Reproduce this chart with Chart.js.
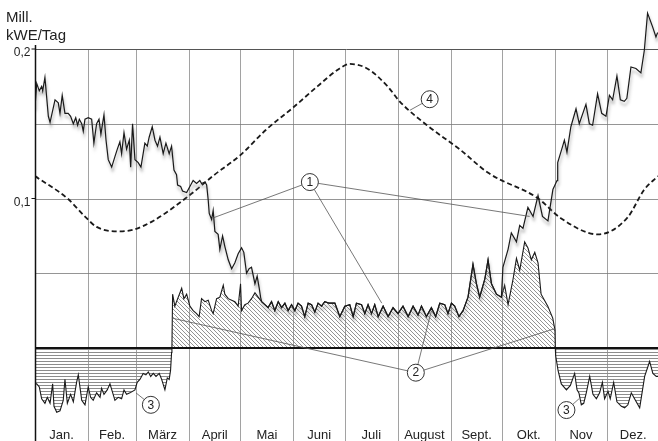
<!doctype html>
<html lang="de">
  <head>
    <title>Energiebilanz pro Tag</title>
    <meta charset="UTF-8" />
    <script src="https://cdn.jsdelivr.net/npm/chart.js"></script>
    <style>
      html, body { margin: 0; padding: 0; background: #fff; }
      .chart-container { position: relative; width: 658px; height: 441px; }
    </style>
  </head>
  <body>
    <div class="chart-container">
      <canvas id="energyChart"></canvas>
    </div>

    <script>
      // x = Tag im Jahr (0..365), y = Mill. kWE/Tag
      const monthNames = ['Jan.', 'Feb.', 'März', 'April', 'Mai', 'Juni', 'Juli', 'August', 'Sept.', 'Okt.', 'Nov', 'Dez.']
      const monthStarts = [0, 31, 59, 90, 120, 151, 181, 212, 243, 273, 304, 334, 365]
      const gridValues = [0.2, 0.15, 0.1, 0.05]
      const tickLabels = { 0.2: '0,2', 0.1: '0,1' }

      // Kurve 1 (Januar bis Mai, danach deckungsgleich mit Kurve 2)
      const c1SpringDays = [0, 1, 2.5, 3.9, 4.5, 5.8, 7.8, 8.8, 11.7, 13.6, 14.6, 15.9, 17.5, 19.4, 20.8, 22.4, 23.8, 24.9, 25.9, 27.3, 28.2, 29.2, 31.1, 33.1, 34.4, 36, 37.4, 38.5, 40.3, 41.5, 42.8, 44.8, 46.7, 48.1, 49.6, 50.6, 52, 53.5, 55.1, 55.9, 57, 58.4, 60.3, 61.9, 64.2, 65.6, 66.7, 68.5, 70.1, 71.6, 73, 74.9, 76.5, 78.4, 79.8, 81.2, 82.7, 83.3, 85.1, 86.2, 88.6, 90.5, 92.4, 94.4, 96.3, 97.3, 99.3, 100.3, 101.2, 101.8, 103.2, 104.1, 105.1, 107, 108, 109.6, 110.9, 112.9, 114.9, 116.8, 118.7, 120.7, 122, 123.6, 125.1, 126.5, 128.5, 129.8, 131, 131.8]
      const c1SpringVals = [0.161, 0.177, 0.172, 0.175, 0.172, 0.181, 0.155, 0.151, 0.166, 0.164, 0.157, 0.169, 0.157, 0.157, 0.155, 0.15, 0.154, 0.149, 0.153, 0.15, 0.145, 0.153, 0.154, 0.153, 0.137, 0.15, 0.153, 0.143, 0.156, 0.139, 0.126, 0.121, 0.128, 0.133, 0.138, 0.13, 0.144, 0.133, 0.139, 0.121, 0.15, 0.126, 0.124, 0.121, 0.137, 0.135, 0.141, 0.148, 0.139, 0.135, 0.141, 0.13, 0.137, 0.13, 0.135, 0.119, 0.116, 0.109, 0.108, 0.105, 0.104, 0.108, 0.112, 0.11, 0.112, 0.11, 0.111, 0.109, 0.099, 0.09, 0.086, 0.092, 0.078, 0.076, 0.066, 0.075, 0.068, 0.059, 0.053, 0.057, 0.063, 0.067, 0.064, 0.05, 0.053, 0.054, 0.043, 0.048, 0.04, 0.034]
      // Kurve 1 (Oktober bis Dezember)
      const c1AutumnDays = [273.4, 276.4, 278.3, 281.3, 283.2, 285.1, 288, 291, 293.9, 296.5, 299.7, 302.6, 305, 305.4, 308.3, 309.3, 310.8, 313.1, 316.1, 318, 321.9, 323.9, 325.8, 328.7, 331.1, 333.6, 335.6, 337.5, 340, 342, 344.3, 345.8, 348.2, 351.1, 354, 356, 357.9, 360.8, 362.8, 363.8]
      const c1AutumnVals = [0.054, 0.066, 0.077, 0.071, 0.082, 0.08, 0.094, 0.088, 0.102, 0.088, 0.085, 0.106, 0.112, 0.124, 0.135, 0.139, 0.131, 0.148, 0.16, 0.15, 0.163, 0.15, 0.149, 0.17, 0.157, 0.155, 0.169, 0.166, 0.182, 0.166, 0.165, 0.167, 0.188, 0.187, 0.184, 0.199, 0.224, 0.215, 0.208, 0.211]

      // Kurve 2 (Überschuss, schraffiert)
      const c2Days = [80, 80.4, 81.7, 83.7, 85.7, 87, 88.6, 90.5, 92.4, 94.4, 95.9, 97.3, 99.3, 101.2, 103.2, 104.1, 106.1, 108, 110, 110.9, 112.9, 114.9, 116.8, 118.7, 120.1, 120.7, 122.6, 124.5, 126.5, 128.5, 130.4, 132.4, 134.3, 136.2, 138.2, 140.1, 142.1, 144.1, 146, 147.9, 149.9, 151.8, 153.7, 155.7, 157.6, 159.6, 161.6, 163.5, 165.4, 167.4, 169.3, 171.8, 175.2, 178.1, 181, 183.9, 185.9, 187.8, 190.8, 192.7, 194.6, 196.6, 198.5, 200.5, 203.4, 206.3, 209.2, 212.1, 215, 218, 220.9, 223.8, 225.8, 228.7, 231.6, 234.1, 236.5, 239.4, 241.3, 243.3, 245.2, 247.7, 250.1, 253, 255.9, 257.9, 259.8, 262.8, 264.7, 266.7, 269.6, 272.5, 274.4, 276.4, 279.3, 281.3, 283.2, 286.1, 288, 290, 292, 293.9, 295.7, 299.6, 302.5, 303.8, 304]
      const c2Vals = [0, 0.036, 0.028, 0.034, 0.04, 0.033, 0.036, 0.028, 0.025, 0.023, 0.021, 0.033, 0.031, 0.032, 0.025, 0.023, 0.033, 0.034, 0.042, 0.036, 0.033, 0.032, 0.031, 0.028, 0.043, 0.025, 0.029, 0.03, 0.033, 0.037, 0.034, 0.031, 0.029, 0.027, 0.031, 0.025, 0.031, 0.027, 0.03, 0.025, 0.029, 0.025, 0.03, 0.028, 0.021, 0.03, 0.029, 0.024, 0.03, 0.028, 0.031, 0.03, 0.03, 0.021, 0.028, 0.029, 0.021, 0.03, 0.029, 0.023, 0.029, 0.023, 0.029, 0.021, 0.028, 0.021, 0.027, 0.023, 0.028, 0.021, 0.028, 0.022, 0.028, 0.021, 0.027, 0.021, 0.03, 0.029, 0.023, 0.03, 0.028, 0.021, 0.025, 0.034, 0.056, 0.043, 0.034, 0.046, 0.059, 0.043, 0.036, 0.034, 0.042, 0.029, 0.046, 0.06, 0.052, 0.071, 0.067, 0.059, 0.064, 0.057, 0.036, 0.028, 0.02, 0.012, 0]

      // Kurve 3 (Defizit, Winter)
      const c3aDays = [0, 1, 2.5, 3.9, 5.8, 7.2, 8.8, 10.3, 11.1, 12.7, 14.6, 16.5, 17.5, 18.9, 20.8, 22.4, 24.3, 25.3, 27.3, 29.2, 31.1, 32.5, 34, 36, 38, 38.9, 40.3, 42.2, 43.8, 45.4, 46.7, 48.6, 50.6, 52, 53.5, 55.5, 58.4, 59.7, 61.3, 63.2, 64.8, 66.2, 67.6, 69.1, 70.7, 72.6, 74, 75.9, 77.3, 78.4, 79.2, 79.8, 80]
      const c3aVals = [-0.024, -0.024, -0.026, -0.034, -0.037, -0.033, -0.037, -0.024, -0.039, -0.043, -0.042, -0.035, -0.021, -0.037, -0.031, -0.036, -0.023, -0.018, -0.035, -0.038, -0.026, -0.033, -0.035, -0.03, -0.033, -0.027, -0.031, -0.028, -0.024, -0.03, -0.035, -0.033, -0.034, -0.028, -0.031, -0.03, -0.028, -0.023, -0.021, -0.017, -0.018, -0.016, -0.019, -0.017, -0.019, -0.017, -0.021, -0.028, -0.02, -0.021, -0.015, -0.003, 0]
      const c3bDays = [304, 304.2, 305.6, 307.5, 310.5, 312.8, 315.3, 316.7, 317.8, 319.2, 320.6, 322.1, 324.1, 326, 328, 329.9, 331.5, 332.8, 334.8, 336.1, 338.1, 340, 342.6, 344.5, 346.4, 348.4, 350.3, 353.3, 356.2, 359.1, 361, 363, 364]
      const c3bVals = [0, -0.005, -0.015, -0.024, -0.028, -0.025, -0.017, -0.028, -0.03, -0.038, -0.037, -0.03, -0.019, -0.031, -0.034, -0.03, -0.023, -0.034, -0.029, -0.034, -0.023, -0.036, -0.039, -0.04, -0.038, -0.03, -0.034, -0.04, -0.019, -0.009, -0.017, -0.019, -0.019]

      // Kurve 4 (gestrichelt)
      const c4Days = [0, 19, 30, 36, 48, 57, 69, 89, 105, 120, 135, 151, 165, 178, 184, 194, 206, 213, 229, 248, 265, 294, 307, 329, 346, 356, 364]
      const c4Vals = [0.115, 0.1, 0.087, 0.081, 0.078, 0.079, 0.085, 0.101, 0.116, 0.129, 0.146, 0.161, 0.175, 0.187, 0.19, 0.187, 0.175, 0.165, 0.149, 0.133, 0.117, 0.1, 0.087, 0.076, 0.087, 0.106, 0.115]

      // Kreisnummern mit Hinweislinien (in Tag / Wert)
      const markers = [
        { label: '1', day: 160.6, val: 0.111, targets: [[104, 0.087], [202.6, 0.03], [289, 0.088]] },
        { label: '2', day: 222.5, val: -0.0165, targets: [[80, 0.02], [231.6, 0.025], [303.8, 0.013]] },
        { label: '3', day: 67.7, val: -0.038, targets: [[59, -0.03]] },
        { label: '3', day: 310.5, val: -0.0415, targets: [[317.8, -0.034]] },
        { label: '4', day: 230.6, val: 0.1664, targets: [[219, 0.159]] },
      ]

      const toPoints = (days, vals) => days.map((d, i) => ({ x: d, y: vals[i] }))
      const curve2 = toPoints(c2Days, c2Vals)
      const curve1 = [
        ...toPoints(c1SpringDays, c1SpringVals),
        ...curve2.filter((p) => p.x > 132 && p.x < 273),
        ...toPoints(c1AutumnDays, c1AutumnVals),
      ]

      function hatch(kind) {
        const c = document.createElement('canvas')
        c.width = 4
        c.height = kind === 'diag' ? 4 : 3
        const g = c.getContext('2d')
        g.strokeStyle = kind === 'diag' ? '#666' : '#8c8c8c'
        g.lineWidth = kind === 'diag' ? 0.7 : 1
        g.beginPath()
        if (kind === 'diag') {
          g.moveTo(-1, -1); g.lineTo(5, 5)
          g.moveTo(-1, 3); g.lineTo(1, 5)
          g.moveTo(3, -1); g.lineTo(5, 1)
        } else {
          g.moveTo(0, 1.5); g.lineTo(4, 1.5)
        }
        g.stroke()
        return g.createPattern(c, 'repeat')
      }

      const FONT = "'Liberation Sans', Arial, sans-serif"
      const INK = '#222'

      const paperPlugin = {
        id: 'paper',
        beforeDatasetsDraw(chart) {
          const { ctx, chartArea, scales } = chart
          const x = scales.x, y = scales.y
          const top = y.getPixelForValue(0.2)
          ctx.save()
          ctx.strokeStyle = '#8a8a8a'
          ctx.lineWidth = 0.8
          monthStarts.slice(1, -1).forEach((d) => {
            const px = Math.round(x.getPixelForValue(d)) + 0.5
            ctx.beginPath(); ctx.moveTo(px, top); ctx.lineTo(px, chart.height); ctx.stroke()
          })
          gridValues.forEach((v) => {
            const py = Math.round(y.getPixelForValue(v)) + 0.5
            ctx.strokeStyle = v === 0.2 ? '#555' : '#7a7a7a'
            ctx.lineWidth = v === 0.2 ? 1 : 0.8
            ctx.beginPath(); ctx.moveTo(chartArea.left, py); ctx.lineTo(chartArea.right, py); ctx.stroke()
          })
          ctx.restore()
        },
        beforeDatasetDraw(chart, args) {
          if (args.index !== 0) return
          const ctx = chart.ctx
          ctx.save()
          ctx.shadowColor = 'rgba(130,130,130,0.65)'
          ctx.shadowOffsetX = 1
          ctx.shadowOffsetY = 4
          ctx.shadowBlur = 3
        },
        afterDatasetDraw(chart, args) {
          if (args.index === 0) chart.ctx.restore()
        },
        afterDatasetsDraw(chart) {
          const { ctx, chartArea, scales } = chart
          const x = scales.x, y = scales.y
          ctx.save()
          // Nulllinie
          const y0 = y.getPixelForValue(0)
          ctx.strokeStyle = '#111'
          ctx.lineWidth = 2
          ctx.beginPath(); ctx.moveTo(chartArea.left, y0); ctx.lineTo(chartArea.right, y0); ctx.stroke()
          // y-Achse
          const ax = chartArea.left + 0.5
          ctx.lineWidth = 1.5
          ctx.beginPath(); ctx.moveTo(ax, y.getPixelForValue(0.2) - 4); ctx.lineTo(ax, chart.height); ctx.stroke()
          ctx.lineWidth = 1
          ctx.fillStyle = INK
          ctx.font = `12px ${FONT}`
          ctx.textAlign = 'right'
          ctx.textBaseline = 'alphabetic'
          Object.keys(tickLabels).forEach((k) => {
            const py = y.getPixelForValue(Number(k))
            ctx.beginPath(); ctx.moveTo(ax - 4, py); ctx.lineTo(ax, py); ctx.stroke()
            ctx.fillText(tickLabels[k], ax - 5, py + 7)
          })
          // Hinweislinien und Kreise
          const r = 8.5
          markers.forEach((m) => {
            const cx = x.getPixelForValue(m.day), cy = y.getPixelForValue(m.val)
            ctx.strokeStyle = '#555'
            ctx.lineWidth = 0.8
            m.targets.forEach(([d, v]) => {
              const tx = x.getPixelForValue(d), ty = y.getPixelForValue(v)
              const len = Math.hypot(tx - cx, ty - cy)
              ctx.beginPath()
              ctx.moveTo(cx + ((tx - cx) / len) * r, cy + ((ty - cy) / len) * r)
              ctx.lineTo(tx, ty)
              ctx.stroke()
            })
            ctx.fillStyle = '#fff'
            ctx.strokeStyle = '#333'
            ctx.lineWidth = 1
            ctx.beginPath(); ctx.arc(cx, cy, r, 0, Math.PI * 2); ctx.fill(); ctx.stroke()
            ctx.fillStyle = INK
            ctx.font = `12px ${FONT}`
            ctx.textAlign = 'center'
            ctx.textBaseline = 'middle'
            ctx.fillText(m.label, cx, cy + 0.5)
          })
          // Monatsnamen
          ctx.font = `13px ${FONT}`
          ctx.textAlign = 'center'
          ctx.textBaseline = 'alphabetic'
          ctx.fillStyle = INK
          monthNames.forEach((name, i) => {
            const mid = (monthStarts[i] + monthStarts[i + 1]) / 2
            ctx.fillText(name, x.getPixelForValue(mid), 439)
          })
          // Achsentitel
          ctx.font = `15px ${FONT}`
          ctx.textAlign = 'left'
          ctx.fillText('Mill.', 6, 22)
          ctx.fillText('kWE/Tag', 6, 40)
          ctx.restore()
        },
      }

      new Chart(document.getElementById('energyChart'), {
        type: 'line',
        data: {
          datasets: [
            { label: '1', data: curve1, borderColor: '#1a1a1a', borderWidth: 1.2, tension: 0, fill: false },
            {
              label: '4', data: toPoints(c4Days, c4Vals), borderColor: '#1a1a1a', borderWidth: 1.8,
              borderDash: [5, 3], cubicInterpolationMode: 'monotone', fill: false,
            },
            { label: '2', data: curve2, borderColor: '#1a1a1a', borderWidth: 1.1, tension: 0, fill: 'origin', backgroundColor: hatch('diag') },
            { label: '3a', data: toPoints(c3aDays, c3aVals), borderColor: '#1a1a1a', borderWidth: 1.1, tension: 0, fill: 'origin', backgroundColor: hatch('horiz') },
            { label: '3b', data: toPoints(c3bDays, c3bVals), borderColor: '#1a1a1a', borderWidth: 1.1, tension: 0, fill: 'origin', backgroundColor: hatch('horiz') },
          ],
        },
        options: {
          responsive: true,
          maintainAspectRatio: false,
          animation: false,
          layout: { padding: { left: 35, top: 4, right: 0, bottom: 0 } },
          elements: { point: { radius: 0, hoverRadius: 0 } },
          scales: {
            x: { type: 'linear', min: 0, max: 364, display: false },
            y: { min: -0.0622, max: 0.2301, display: false },
          },
          plugins: { legend: { display: false }, tooltip: { enabled: false } },
        },
        plugins: [paperPlugin],
      })
    </script>
  </body>
</html>
